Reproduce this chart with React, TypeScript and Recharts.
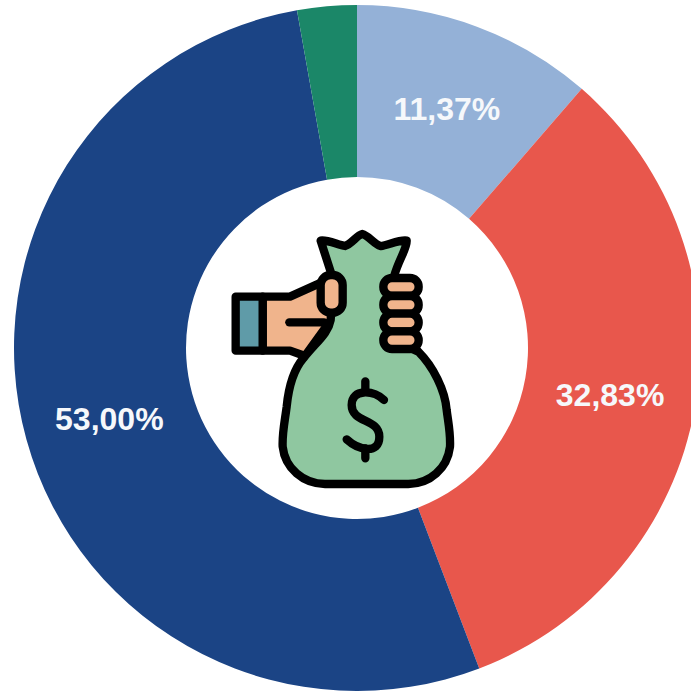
import React from "react";
import { PieChart, Pie, Cell } from "recharts";

const categories = ["A", "B", "C", "D"];
const values = [11.37, 32.83, 53.0, 2.8];
const labels = ["11,37%", "32,83%", "53,00%", ""];
const colors = ["#94b1d7", "#e8574c", "#1b4485", "#1b8768"];
const data = categories.map((name, i) => ({ name, value: values[i], text: labels[i] }));

const RAD = Math.PI / 180;
const renderLabel = (p: any) => {
  if (!p.payload?.text && !p.text) return null;
  const text = p.text ?? p.payload.text;
  const r = 257;
  const x = p.cx + r * Math.cos(-p.midAngle * RAD);
  const y = p.cy + r * Math.sin(-p.midAngle * RAD) + 2;
  return (
    <text x={x} y={y} fill="#f6f8fb" textAnchor="middle" dominantBaseline="central"
      fontFamily="Liberation Sans" fontWeight="bold" fontSize={32}>
      {text}
    </text>
  );
};

const Icon = () => (
  <svg width={360} height={360} viewBox="0 0 1080 1080"
    style={{ position: "absolute", left: 170, top: 170 }}>
    <g stroke="#000" strokeWidth={25} strokeLinejoin="round" strokeLinecap="round">
      <path fill="#f0b48c" d="M278 380 L360 380 L460 335 L490 440 L405 558 L360 542 L278 542 Z" />
      <rect x={197} y={380} width={81} height={162} fill="#5f9ba8" />
      <path fill="#8fc7a0" d="M452 212 C470 208 505 225 525 228 C545 222 560 196 577 192 C595 196 612 222 632 228 C655 225 690 208 710 212 C712 235 685 270 672 320 L690 520 L745 545 C790 590 825 660 830 720 C835 760 842 790 840 830 C832 895 780 942 715 942 L465 942 C400 942 345 895 338 830 C336 790 345 750 350 710 C355 660 370 600 400 565 C440 515 475 490 482 450 L490 330 Z" />
      <rect x={452} y={315} width={66} height={113} rx={30} fill="#f0b48c" />
      <path fill="none" d="M358 457 L462 457" />
      <rect x={640} y={324} width={106} height={53} rx={26} fill="#f0b48c" />
      <rect x={640} y={378} width={106} height={53} rx={26} fill="#f0b48c" />
      <rect x={640} y={431} width={106} height={53} rx={26} fill="#f0b48c" />
      <rect x={640} y={484} width={106} height={53} rx={26} fill="#f0b48c" />
      <path fill="none" d="M642 690 C610 660 545 655 545 705 C545 760 628 745 628 800 C628 855 565 840 530 808" />
      <path fill="none" d="M586 634 L586 665 M586 835 L586 865" />
    </g>
  </svg>
);

export default function App() {
  return (
    <div style={{ position: "absolute", left: 0, top: 0, width: 691, height: 691, overflow: "hidden", background: "#fff" }}>
      <PieChart width={691} height={691} margin={{ top: 0, right: 0, bottom: 0, left: 0 }}>
        <Pie data={data} dataKey="value" cx={357} cy={348} innerRadius={171} outerRadius={343}
          startAngle={90} endAngle={-270} stroke="none" label={renderLabel} labelLine={false}
          isAnimationActive={false}>
          {data.map((d, i) => <Cell key={d.name} fill={colors[i]} />)}
        </Pie>
      </PieChart>
      <Icon />
    </div>
  );
}
